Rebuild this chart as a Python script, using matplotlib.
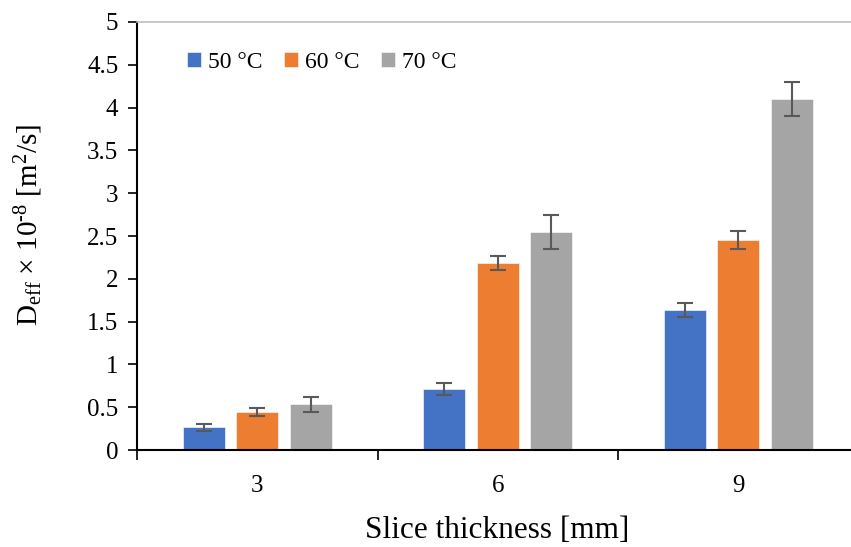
import matplotlib
matplotlib.use("Agg")
import matplotlib.pyplot as plt
import numpy as np

plt.rcParams['font.family'] = ['Liberation Serif', 'DejaVu Serif']
plt.rcParams['mathtext.fontset'] = 'custom'
plt.rcParams['mathtext.rm'] = 'Liberation Serif'
plt.rcParams['mathtext.it'] = 'Liberation Serif:italic'

# data
thickness = ['3', '6', '9']
series = ['50 °C', '60 °C', '70 °C']
d50 = [0.265, 0.713, 1.636]
d60 = [0.444, 2.185, 2.453]
d70 = [0.534, 2.543, 4.104]
err50 = [0.043, 0.072, 0.08]
err60 = [0.05, 0.085, 0.10]
err70 = [0.085, 0.20, 0.20]
colors = ['#4472C4', '#ED7D31', '#A5A5A5']

fig = plt.figure(figsize=(8.51, 5.47), dpi=100)
ax = fig.add_axes([0.161, 0.1773, 0.848, 0.7825])

x = np.arange(len(thickness))
w = 0.175
step = 0.222
vals = [d50, d60, d70]
errs = [err50, err60, err70]
for i in range(3):
    ax.bar(x + (i - 1) * step, vals[i], w, color=colors[i], label=series[i],
           yerr=errs[i], error_kw=dict(ecolor='#595959', elinewidth=1.5, capsize=6, capthick=1.5),
           edgecolor='white', linewidth=0.4, zorder=2)

ax.set_xlim(-0.5, 2.5)
ax.set_ylim(0, 5)
ax.set_yticks(np.arange(0, 5.01, 0.5))
ax.set_yticklabels(['0', '0.5', '1', '1.5', '2', '2.5', '3', '3.5', '4', '4.5', '5'])
ax.set_xticks([-0.5, 0.5, 1.5, 2.5])
ax.set_xticklabels([])
ax.set_xticks(x, minor=True)
ax.set_xticklabels(thickness, minor=True)
ax.tick_params(axis='x', which='major', direction='out', length=7, width=1.2)
ax.tick_params(axis='x', which='minor', length=0, pad=18, labelsize=18)
ax.tick_params(axis='y', direction='out', length=6.5, width=1.2, labelsize=18, pad=7)

ax.spines['right'].set_visible(False)
ax.spines['top'].set_color('#BFBFBF')
ax.spines['top'].set_linewidth(1.2)
ax.spines['left'].set_linewidth(1.5)
ax.spines['bottom'].set_linewidth(1.5)

ax.set_xlabel('Slice thickness [mm]', fontsize=22.5)
ax.xaxis.set_label_coords(0.4986, -0.155)
ax.set_ylabel('D$_{\\mathrm{eff}}$ × 10$^{\\text{-8}}$ [m$^{2}$/s]', fontsize=21)
ax.yaxis.set_label_coords(-0.127, 0.526)

ax.legend(loc='center', bbox_to_anchor=(0.256, 0.906), ncol=3, frameon=False,
          fontsize=17, handlelength=0.6, handleheight=0.6, handletextpad=0.3,
          columnspacing=0.9)

fig.savefig('out.png', dpi=100)
